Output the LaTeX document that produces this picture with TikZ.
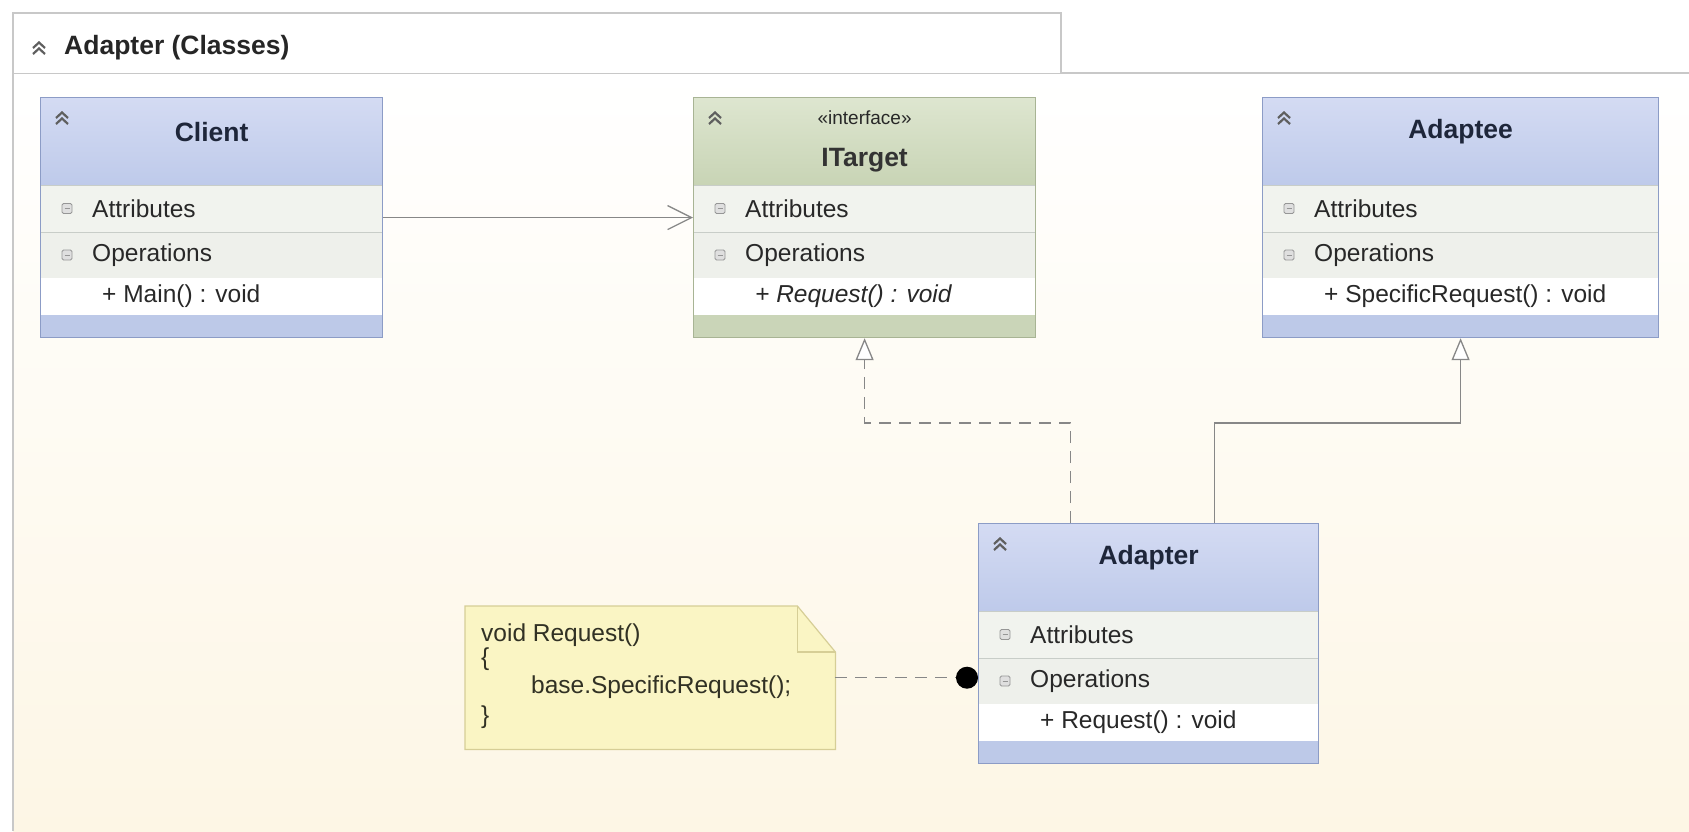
\documentclass[tikz,border=0pt]{standalone}
\usepackage{fontspec}
\setmainfont{Liberation Sans}
\usetikzlibrary{arrows.meta,calc}
\definecolor{hdrtop}{RGB}{212,219,243}
\definecolor{hdrbot}{RGB}{190,202,234}
\definecolor{stripb}{RGB}{189,201,232}
\definecolor{bordb}{RGB}{140,156,198}
\definecolor{gtop}{RGB}{222,230,208}
\definecolor{gbot}{RGB}{200,212,181}
\definecolor{stripg}{RGB}{202,213,184}
\definecolor{bordg}{RGB}{168,180,148}
\definecolor{attrbg}{RGB}{241,243,238}
\definecolor{opbg}{RGB}{238,240,235}
\definecolor{rowline}{RGB}{200,205,200}
\definecolor{conncol}{RGB}{135,135,135}
\definecolor{notebg}{RGB}{250,245,196}
\definecolor{noteline}{RGB}{214,206,150}
\definecolor{txt}{RGB}{40,40,40}
\definecolor{ttl}{RGB}{30,38,58}
\definecolor{panelbot}{RGB}{253,246,229}
\definecolor{framecol}{RGB}{200,200,200}
\definecolor{iconcol}{RGB}{150,150,150}
\definecolor{chevcol}{RGB}{95,95,95}
\tikzset{
  rowtxt/.style={font=\fontsize{24.5}{29}\selectfont, text=txt, anchor=west, inner sep=0pt},
  cname/.style={font=\bfseries\fontsize{26.5}{31}\selectfont, text=ttl, inner sep=0pt},
  stereo/.style={font=\fontsize{19}{23}\selectfont, text=txt, inner sep=0pt},
  notetxt/.style={font=\fontsize{24.5}{29}\selectfont, text=txt!90!olive, anchor=west, inner sep=0pt},
  conn/.style={draw=conncol, line width=1.3pt},
  dashedconn/.style={conn, dash pattern=on 12pt off 8pt},
  chev/.style={draw=chevcol, line width=2.2pt},
  rowicon/.style={draw=iconcol, fill=iconcol!30, line width=0.9pt, rounded corners=1.5pt},
}
\newcommand{\RowIcon}[1]{%
  \draw[rowicon] (22,#1-5) rectangle (32,#1+5);
  \draw[draw=iconcol, line width=1pt] (24.5,#1) -- (29.5,#1);}
\newcommand{\UmlBox}[8]{%
  \begin{scope}[shift={(#2,#3)}]
    \shade[top color=#5, bottom color=#6] (0,0) rectangle (#4,88);
    \fill[attrbg] (0,88) rectangle (#4,135);
    \fill[opbg] (0,135) rectangle (#4,181);
    \fill[white] (0,181) rectangle (#4,218);
    \fill[#7] (0,218) rectangle (#4,240);
    \draw[rowline, line width=1pt] (0,88) -- (#4,88);
    \draw[rowline, line width=1pt] (0,135) -- (#4,135);
    \node[draw=#8, line width=1.2pt, minimum width=#4, minimum height=240, inner sep=0pt, anchor=north west] (#1) at (0,0) {};
    \draw[chev] (16,21) -- (22,15.5) -- (28,21) (16,27) -- (22,21.5) -- (28,27);
    \RowIcon{111.5}
    \RowIcon{158}
    \node[rowtxt] (#1-attr) at (52,111.5) {Attributes};
    \node[rowtxt] (#1-ops) at (52,158) {Operations};
  \end{scope}}
\begin{document}
\begin{tikzpicture}[x=1pt,y=-1pt]
\useasboundingbox (0,0) rectangle (1689,831);
% panel
\fill[white] (0,0) rectangle (1689,831);
\shade[top color=white, bottom color=panelbot] (13,73) rectangle (1689,831);
\draw[framecol, line width=1.2pt] (13,831) -- (13,73) -- (1689,73);
\draw[framecol, line width=1.2pt, fill=white] (13,73) -- (13,13) -- (1061,13) -- (1061,73);
\draw[chev] (33,48) -- (39,42.5) -- (45,48) (33,54) -- (39,48.5) -- (45,54);
\node[cname, text=black!85, anchor=west] (paneltitle) at (64,48) {Adapter (Classes)};

% classes
\UmlBox{client}{40}{97}{342}{hdrtop}{hdrbot}{stripb}{bordb}
\node[cname] (client-name) at ($(client.north)+(0,35)$) {Client};
\node[rowtxt] (client-m) at ($(client.north west)+(62,199.5)$) {+ Main() : void};

\UmlBox{itarget}{693}{97}{342}{gtop}{gbot}{stripg}{bordg}
\node[stereo] (itarget-st) at ($(itarget.north)+(0,21)$) {«interface»};
\node[cname, text=black!80] (itarget-name) at ($(itarget.north)+(0,63)$) {ITarget};
\node[rowtxt, font=\itshape\fontsize{24.5}{29}\selectfont] (itarget-m) at ($(itarget.north west)+(62,199.5)$) {+ Request() : void};

\UmlBox{adaptee}{1262}{97}{396}{hdrtop}{hdrbot}{stripb}{bordb}
\node[cname] (adaptee-name) at ($(adaptee.north)+(0,35)$) {Adaptee};
\node[rowtxt] (adaptee-m) at ($(adaptee.north west)+(62,199.5)$) {+ SpecificRequest() : void};

\UmlBox{adapter}{978}{523}{340}{hdrtop}{hdrbot}{stripb}{bordb}
\node[cname] (adapter-name) at ($(adapter.north)+(0,35)$) {Adapter};
\node[rowtxt] (adapter-m) at ($(adapter.north west)+(62,199.5)$) {+ Request() : void};

% note
\node[minimum width=370, minimum height=143, inner sep=0pt, anchor=north west] (note) at (465,606) {};
\draw[fill=notebg, draw=noteline, line width=1.2pt] (note.north west) -- ([xshift=-38pt]note.north east) -- ([yshift=-46pt]note.north east) -- (note.south east) -- (note.south west) -- cycle;
\draw[draw=noteline, line width=1.2pt] ([xshift=-38pt]note.north east) -- ([xshift=-38pt,yshift=-46pt]note.north east) -- ([yshift=-46pt]note.north east);
\node[notetxt] (note-l1) at ($(note.north west)+(16,29)$) {void Request()};
\node[notetxt] (note-l2) at ($(note.north west)+(16,53)$) {\{};
\node[notetxt] (note-l3) at ($(note.north west)+(66,81)$) {base.SpecificRequest();};
\node[notetxt] (note-l4) at ($(note.north west)+(16,111)$) {\}};

% connectors
\draw[conn, -{Straight Barb[length=24pt, width=24pt, line width=1.3pt]}] (client.east) -- (itarget.west);
\draw[dashedconn, -{Triangle[length=22pt, width=18pt, fill=white, line width=1.3pt]}] ([xshift=-78pt]adapter.north) -- ++(0,-100) -| (itarget.south);
\draw[conn, -{Triangle[length=22pt, width=18pt, fill=white, line width=1.3pt]}] ([xshift=66pt]adapter.north) -- ++(0,-100) -| (adaptee.south);
\draw[dashedconn, -{Circle[length=22pt, color=black]}] (note.east) -- (note.east -| adapter.west);
\end{tikzpicture}
\end{document}
